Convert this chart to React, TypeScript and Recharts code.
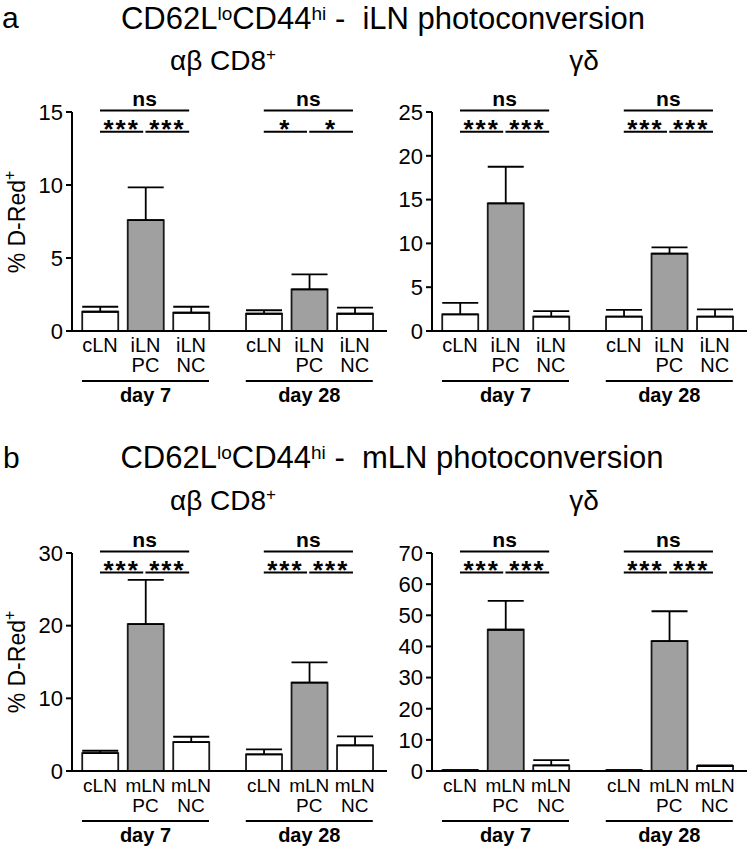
import React from 'react';
import { BarChart, Bar, XAxis, YAxis, ErrorBar, Cell, ReferenceLine } from 'recharts';

const FONT = '"Liberation Sans", Arial, Helvetica, sans-serif';
const GRAY = '#a0a0a0';

// categories
const groups = ['day 7', 'day 28'];
const iLNLabels = ['cLN', 'iLN\nPC', 'iLN\nNC'];
const mLNLabels = ['cLN', 'mLN\nPC', 'mLN\nNC'];

// a: iLN photoconversion, αβ CD8+
const aCD8Mean = [1.32, 7.6, 1.25, 1.18, 2.85, 1.18];
const aCD8Sem = [0.34, 2.24, 0.41, 0.24, 1.03, 0.42];
const aCD8Ticks = [0, 5, 10, 15];
const aCD8Sig = [['ns', '***', '***'], ['ns', '*', '*']];

// a: iLN photoconversion, γδ
const aGDMean = [1.89, 14.58, 1.63, 1.63, 8.83, 1.63];
const aGDSem = [1.33, 4.17, 0.64, 0.79, 0.72, 0.83];
const aGDTicks = [0, 5, 10, 15, 20, 25];
const aGDSig = [['ns', '***', '***'], ['ns', '***', '***']];

// b: mLN photoconversion, αβ CD8+
const bCD8Mean = [2.47, 20.21, 3.98, 2.29, 12.16, 3.52];
const bCD8Sem = [0.32, 6.08, 0.73, 0.68, 2.79, 1.24];
const bCD8Ticks = [0, 10, 20, 30];
const bCD8Sig = [['ns', '***', '***'], ['ns', '***', '***']];

// b: mLN photoconversion, γδ
const bGDMean = [0.2, 45.36, 1.8, 0.2, 41.7, 1.6];
const bGDSem = [0.05, 9.24, 1.7, 0.05, 9.6, 0.2];
const bGDTicks = [0, 10, 20, 30, 40, 50, 60, 70];
const bGDSig = [['ns', '***', '***'], ['ns', '***', '***']];

const GROUP_STEP = 3.6;
const X_DOMAIN = [-0.615, 6.308];

// bar label under each bar; the middle bar of a group also carries the group line + "day N"
function CatTick(props: any) {
  const { x, y, index, labels, fontSize } = props;
  const n = labels.length;
  const lines: string[] = labels[index % n].split('\n');
  const isMid = index % n === 1;
  return (
    <g>
      <text x={x} y={y + 20.7} textAnchor="middle" fontSize={fontSize} fontFamily={FONT} fill="#000">
        {lines.map((l, i) => (
          <tspan key={i} x={x} dy={i === 0 ? 0 : 19.8}>{l}</tspan>
        ))}
      </text>
      {isMid && (
        <>
          <line x1={x - 63.5} x2={x + 63.5} y1={y + 50} y2={y + 50} stroke="#000" strokeWidth={2} />
          <text x={x} y={y + 70.5} textAnchor="middle" fontSize={20} fontWeight="bold" fontFamily={FONT} fill="#000">
            {groups[Math.floor(index / n)]}
          </text>
        </>
      )}
    </g>
  );
}

function SigText({ viewBox, text, stars }: any) {
  const cx = viewBox.x + viewBox.width / 2;
  return (
    <text
      x={cx}
      y={stars ? viewBox.y + 6 : viewBox.y - 4}
      textAnchor="middle"
      fontSize={stars ? 26 : 21}
      fontWeight="bold"
      fontFamily={FONT}
      letterSpacing={stars ? 2 : 0}
      fill="#000"
    >
      {text}
    </text>
  );
}

function Panel({ left, top, plotHeight, labels, labelSize, means, sems, ticks, sig }: any) {
  const yMax = ticks[ticks.length - 1];
  const rows: any[] = [];
  groups.forEach((g, gi) => {
    labels.forEach((lab: string, i: number) => {
      const k = gi * labels.length + i;
      rows.push({ x: gi * GROUP_STEP + i, label: lab, mean: means[k], err: [0, sems[k]] });
    });
  });
  const topY = yMax * 1.007;
  const lowY = yMax * 0.91;

  return (
    <div style={{ position: 'absolute', left, top }}>
      <BarChart
        width={387}
        height={32 + plotHeight + 82 + 5}
        data={rows}
        margin={{ top: 32, right: 0, bottom: 5, left: 0 }}
      >
        <XAxis
          dataKey="x"
          type="number"
          domain={X_DOMAIN}
          allowDataOverflow
          ticks={rows.map((r) => r.x)}
          interval={0}
          height={82}
          tickSize={0}
          tickMargin={0}
          tickLine={false}
          axisLine={{ stroke: '#000', strokeWidth: 2 }}
          tick={(p: any) => <CatTick {...p} labels={labels} fontSize={labelSize} />}
        />
        <YAxis
          type="number"
          domain={[0, yMax]}
          allowDataOverflow
          ticks={ticks}
          interval={0}
          width={72}
          tickSize={6}
          tickMargin={3}
          axisLine={{ stroke: '#000', strokeWidth: 2 }}
          tickLine={{ stroke: '#000', strokeWidth: 2 }}
          tick={{ fill: '#000', fontSize: 22, fontFamily: FONT }}
        />
        <Bar dataKey="mean" barSize={36} isAnimationActive={false} stroke="#1a1a1a" strokeWidth={1.8}>
          {rows.map((r, i) => (
            <Cell key={i} fill={i % 3 === 1 ? GRAY : '#fff'} />
          ))}
          <ErrorBar dataKey="err" direction="y" width={18} stroke="#000" strokeWidth={1.8} />
        </Bar>
        {groups.map((g, gi) => {
          const x0 = gi * GROUP_STEP;
          return (
            <React.Fragment key={g}>
              <ReferenceLine
                segment={[{ x: x0, y: topY }, { x: x0 + 1.96, y: topY }]}
                stroke="#000"
                strokeWidth={2}
                ifOverflow="visible"
                label={(p: any) => <SigText viewBox={p.viewBox} text={sig[gi][0]} />}
              />
              <ReferenceLine
                segment={[{ x: x0, y: lowY }, { x: x0 + 0.95, y: lowY }]}
                stroke="#000"
                strokeWidth={2}
                ifOverflow="visible"
                label={(p: any) => <SigText viewBox={p.viewBox} text={sig[gi][1]} stars />}
              />
              <ReferenceLine
                segment={[{ x: x0 + 1.0, y: lowY }, { x: x0 + 1.96, y: lowY }]}
                stroke="#000"
                strokeWidth={2}
                ifOverflow="visible"
                label={(p: any) => <SigText viewBox={p.viewBox} text={sig[gi][2]} stars />}
              />
            </React.Fragment>
          );
        })}
      </BarChart>
    </div>
  );
}

function Title({ x, y, site }: any) {
  return (
    <text x={x} y={y} textAnchor="middle" fontSize={31} fontFamily={FONT} fill="#000" style={{ whiteSpace: 'pre' }}>
      CD62L
      <tspan dy={-9} fontSize={19}>lo</tspan>
      <tspan dy={9}>CD44</tspan>
      <tspan dy={-9} fontSize={19}>hi</tspan>
      <tspan dy={9}>{` -  ${site} photoconversion`}</tspan>
    </text>
  );
}

function YLabel({ x, y }: any) {
  return (
    <text
      x={x}
      y={y}
      transform={`rotate(-90, ${x}, ${y})`}
      textAnchor="middle"
      fontSize={23}
      fontFamily={FONT}
      fill="#000"
    >
      % D-Red
      <tspan dy={-10} fontSize={16}>+</tspan>
    </text>
  );
}

export default function App() {
  return (
    <div style={{ position: 'absolute', left: 0, top: 0, width: 750, height: 850, background: '#fff' }}>
      <Panel left={0} top={80} plotHeight={219} labels={iLNLabels} labelSize={20} means={aCD8Mean} sems={aCD8Sem} ticks={aCD8Ticks} sig={aCD8Sig} />
      <Panel left={360} top={80} plotHeight={219} labels={iLNLabels} labelSize={20} means={aGDMean} sems={aGDSem} ticks={aGDTicks} sig={aGDSig} />
      <Panel left={0} top={521} plotHeight={218} labels={mLNLabels} labelSize={19} means={bCD8Mean} sems={bCD8Sem} ticks={bCD8Ticks} sig={bCD8Sig} />
      <Panel left={360} top={521} plotHeight={218} labels={mLNLabels} labelSize={19} means={bGDMean} sems={bGDSem} ticks={bGDTicks} sig={bGDSig} />
      <svg width={750} height={850} style={{ position: 'absolute', left: 0, top: 0, pointerEvents: 'none' }}>
        <text x={2} y={28} fontSize={30} fontFamily={FONT} fill="#000">a</text>
        <text x={3} y={468} fontSize={30} fontFamily={FONT} fill="#000">b</text>
        <Title x={383} y={28.5} site="iLN" />
        <Title x={392} y={468} site="mLN" />
        <text x={223} y={70} textAnchor="middle" fontSize={28} fontFamily={FONT} fill="#000">
          αβ CD8<tspan dy={-10} fontSize={17}>+</tspan>
        </text>
        <text x={584} y={70} textAnchor="middle" fontSize={28} fontFamily={FONT} fill="#000">γδ</text>
        <text x={223} y={510} textAnchor="middle" fontSize={28} fontFamily={FONT} fill="#000">
          αβ CD8<tspan dy={-10} fontSize={17}>+</tspan>
        </text>
        <text x={584} y={510} textAnchor="middle" fontSize={28} fontFamily={FONT} fill="#000">γδ</text>
        <YLabel x={25} y={222} />
        <YLabel x={25} y={662} />
      </svg>
    </div>
  );
}
